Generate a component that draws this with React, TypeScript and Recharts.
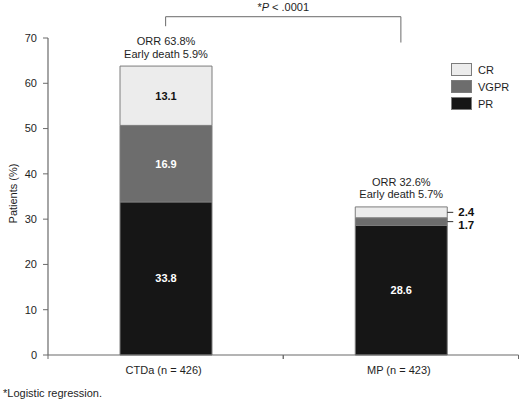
import React from "react";
import { Bar, BarChart, LabelList, Legend, ReferenceLine, XAxis, YAxis } from "recharts";

const GROUPS = ["CTDa (n = 426)", "MP (n = 423)"];
const PR = [33.8, 28.6];
const VGPR = [16.9, 1.7];
const CR = [13.1, 2.4];
const ORR = ["ORR 63.8%", "ORR 32.6%"];
const EARLY_DEATH = ["Early death 5.9%", "Early death 5.7%"];
const Y_TICKS = [0, 10, 20, 30, 40, 50, 60, 70];

// bracket heights in data units (above the 70 line)
const BRACKET_TOP = 74.7;
const BRACKET_LEFT_END = 72.6;
const BRACKET_RIGHT_END = 69;

const FONT = "'Liberation Sans', Arial, Helvetica, sans-serif";
const TEXT = "#1e1e1e";
const AXIS = "#6a6a6a";
const OUTLINE = "#7c7c7c";

const SERIES = [
  { key: "cr", name: "CR", fill: "#ececec", label: "#111", nudge: 0 },
  { key: "vgpr", name: "VGPR", fill: "#6d6d6d", label: "#fff", nudge: 3 },
  { key: "pr", name: "PR", fill: "#161616", label: "#fff", nudge: 0 },
];

const data = GROUPS.map((g, i) => ({ group: g, pr: PR[i], vgpr: VGPR[i], cr: CR[i] }));

function segmentLabel(color: string, nudge: number) {
  return (props: any) => {
    const { x, y, width, height, value } = props;
    const cy = y + height / 2;
    if (Math.abs(height) < 14) {
      const right = x + width;
      return (
        <g>
          <line x1={right} y1={cy} x2={right + 6} y2={cy} stroke="#333" strokeWidth={1} />
          <text x={right + 11} y={cy + nudge} dy="0.36em" fontSize={11.5} fontWeight="bold" fill="#111">
            {value}
          </text>
        </g>
      );
    }
    return (
      <text x={x + width / 2} y={cy} dy="0.36em" textAnchor="middle" fontSize={11} fontWeight="bold" fill={color}>
        {value}
      </text>
    );
  };
}

function orrLabel(props: any) {
  const { x, y, width, index } = props;
  const cx = x + width / 2;
  return (
    <g>
      <text x={cx} y={y - 21} textAnchor="middle" fontSize={11} fill={TEXT}>
        {ORR[index]}
      </text>
      <text x={cx} y={y - 8.5} textAnchor="middle" fontSize={11} fill={TEXT}>
        {EARLY_DEATH[index]}
      </text>
    </g>
  );
}

function CategoryTick(props: any) {
  const { x, y, payload } = props;
  const half = payload.offset ?? 0;
  return (
    <g>
      <line x1={x - half} y1={y} x2={x - half} y2={y + 4} stroke={AXIS} />
      <line x1={x + half} y1={y} x2={x + half} y2={y + 4} stroke={AXIS} />
      <text x={x - 2} y={y + 19} textAnchor="middle" fontSize={11} fill={TEXT}>
        {payload.value}
      </text>
    </g>
  );
}

function PLabel(props: any) {
  const { viewBox } = props;
  const cx = viewBox.x + viewBox.width / 2;
  return (
    <text x={cx} y={viewBox.y - 6} textAnchor="middle" fontSize={11} fill={TEXT}>
      <tspan>*</tspan>
      <tspan fontStyle="italic">P</tspan>
      <tspan>{" < .0001"}</tspan>
    </text>
  );
}

function YLabel(props: any) {
  const { viewBox } = props;
  const x = viewBox.x + 13;
  const y = viewBox.y + viewBox.height / 2 - 3;
  return (
    <text x={x} y={y} transform={`rotate(-90, ${x}, ${y})`} textAnchor="middle" dy="0.36em" fontSize={11} fill={TEXT}>
      Patients (%)
    </text>
  );
}

function LegendBox() {
  return (
    <div style={{ fontFamily: FONT, fontSize: 11, color: TEXT }}>
      {SERIES.map((s) => (
        <div key={s.key} style={{ display: "flex", alignItems: "center", height: 13, marginBottom: 4 }}>
          <span
            style={{
              display: "inline-block",
              width: 19,
              height: 11,
              background: s.fill,
              border: `1px solid ${OUTLINE}`,
              marginRight: 6,
            }}
          />
          <span>{s.name}</span>
        </div>
      ))}
    </div>
  );
}

export default function App() {
  const first = GROUPS[0];
  const second = GROUPS[1];
  return (
    <div style={{ position: "absolute", left: 0, top: 0, width: 520, height: 401, background: "#fff", fontFamily: FONT }}>
      <BarChart width={520} height={401} data={data} margin={{ top: 38, right: 1.5, bottom: 0, left: 0 }}>
        <XAxis
          dataKey="group"
          height={46}
          tickSize={0}
          tickMargin={0}
          tickLine={false}
          axisLine={{ stroke: AXIS, strokeWidth: 1.2 }}
          tick={<CategoryTick />}
          interval={0}
        />
        <YAxis
          width={48}
          domain={[0, 70]}
          ticks={Y_TICKS}
          tickSize={5}
          tickMargin={6}
          axisLine={{ stroke: AXIS, strokeWidth: 1.2 }}
          tickLine={{ stroke: AXIS }}
          tick={{ fontSize: 11, fill: TEXT }}
          label={<YLabel />}
        />
        <Legend
          layout="horizontal"
          verticalAlign="middle"
          align="center"
          content={<LegendBox />}
          wrapperStyle={{ top: 63, left: 451, width: 70, height: 50 }}
        />
        <Bar dataKey="pr" stackId="a" barSize={92} fill={SERIES[2].fill} stroke={OUTLINE} strokeWidth={1} isAnimationActive={false}>
          <LabelList dataKey="pr" content={segmentLabel(SERIES[2].label, SERIES[2].nudge)} />
        </Bar>
        <Bar dataKey="vgpr" stackId="a" barSize={92} fill={SERIES[1].fill} stroke={OUTLINE} strokeWidth={1} isAnimationActive={false}>
          <LabelList dataKey="vgpr" content={segmentLabel(SERIES[1].label, SERIES[1].nudge)} />
        </Bar>
        <Bar dataKey="cr" stackId="a" barSize={92} fill={SERIES[0].fill} stroke={OUTLINE} strokeWidth={1} isAnimationActive={false}>
          <LabelList dataKey="cr" content={segmentLabel(SERIES[0].label, SERIES[0].nudge)} />
          <LabelList dataKey="cr" content={orrLabel} />
        </Bar>
        <ReferenceLine
          segment={[{ x: first, y: BRACKET_LEFT_END }, { x: first, y: BRACKET_TOP }]}
          stroke={AXIS}
          ifOverflow="visible"
        />
        <ReferenceLine
          segment={[{ x: first, y: BRACKET_TOP }, { x: second, y: BRACKET_TOP }]}
          stroke={AXIS}
          ifOverflow="visible"
          label={<PLabel />}
        />
        <ReferenceLine
          segment={[{ x: second, y: BRACKET_RIGHT_END }, { x: second, y: BRACKET_TOP }]}
          stroke={AXIS}
          ifOverflow="visible"
        />
      </BarChart>
      <div style={{ position: "absolute", left: 3, top: 388, fontSize: 11, lineHeight: "11px", color: TEXT }}>
        *Logistic regression.
      </div>
    </div>
  );
}
